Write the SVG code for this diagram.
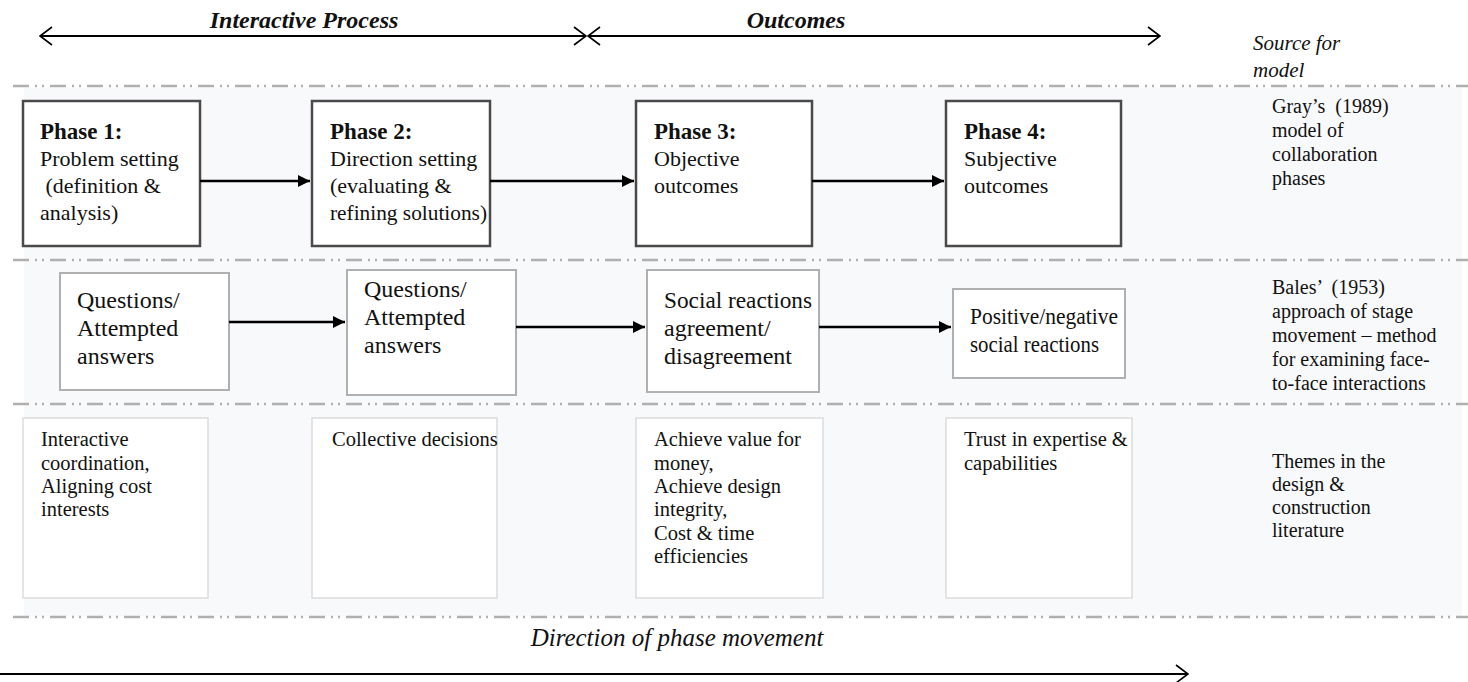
<svg xmlns="http://www.w3.org/2000/svg" width="1468" height="682" viewBox="0 0 1468 682">
  <style>
    .t { font-family: "Liberation Serif", "Times New Roman", serif; fill: #111; }
    .head { font-size: 24px; font-weight: bold; font-style: italic; text-anchor: middle; }
    .ph { font-size: 22px; }
    .phb { font-size: 23px; font-weight: bold; }
    .b2 { font-size: 24px; }
    .b3 { font-size: 20.5px; }
    .src { font-size: 20px; }
    .srci { font-size: 21px; font-style: italic; }
    .dir { font-size: 25px; font-style: italic; text-anchor: middle; }
    .sep { stroke: #b0b0b0; stroke-width: 2.5; stroke-dasharray: 16 6 2 5 2 6; fill: none; }
    .phase { fill: #ffffff; stroke: #4a4a4a; stroke-width: 2.5; }
    .stage { fill: #ffffff; stroke: #b0b0b0; stroke-width: 2; }
    .theme { fill: #ffffff; stroke: #dcdcdc; stroke-width: 1.5; }
    .flow { stroke: #000; stroke-width: 2.5; fill: none; marker-end: url(#solid); }
    .span { stroke: #000; stroke-width: 2; fill: none; }
  </style>
  <defs>
    <marker id="solid" viewBox="0 0 10 10" refX="10" refY="5" markerWidth="5" markerHeight="5" orient="auto" markerUnits="strokeWidth">
      <path d="M0,0 L10,5 L0,10 Z" fill="#000"/>
    </marker>
    <marker id="open" viewBox="0 0 14 20" refX="13" refY="10" markerWidth="7" markerHeight="10" orient="auto-start-reverse" markerUnits="strokeWidth">
      <path d="M1,1 L13,10 L1,19" fill="none" stroke="#000" stroke-width="1.6"/>
    </marker>
  </defs>

  <rect x="0" y="0" width="1468" height="682" fill="#ffffff"/>
  <!-- shaded band behind the three rows -->
  <rect x="24" y="88" width="1438" height="528" fill="#f8f9fb"/>

  <!-- row separators -->
  <g id="separators">
    <line class="sep" x1="13" y1="86" x2="1468" y2="86"/>
    <line class="sep" x1="13" y1="260" x2="1468" y2="260"/>
    <line class="sep" x1="13" y1="404" x2="1468" y2="404"/>
    <line class="sep" x1="13" y1="617" x2="1468" y2="617"/>
  </g>

  <!-- header spans -->
  <g id="header">
    <text class="t head" x="304" y="28">Interactive Process</text>
    <text class="t head" x="796" y="28">Outcomes</text>
    <text class="t srci" x="1253" y="50">Source for</text>
    <text class="t srci" x="1253" y="77">model</text>
  </g>

  <!-- row 1: Gray's phases -->
  <g id="phase1">
    <rect class="phase" x="23" y="101" width="177" height="145"/>
    <text class="t phb" x="40" y="139">Phase 1:</text>
    <text class="t ph" x="40" y="166">Problem setting</text>
    <text class="t ph" x="40" y="193" xml:space="preserve"> (definition &amp;</text>
    <text class="t ph" x="40" y="220">analysis)</text>
  </g>
  <g id="phase2">
    <rect class="phase" x="312" y="101" width="178" height="145"/>
    <text class="t phb" x="330" y="139">Phase 2:</text>
    <text class="t ph" x="330" y="166">Direction setting</text>
    <text class="t ph" x="330" y="193">(evaluating &amp;</text>
    <text class="t ph" x="330" y="220" textLength="157" lengthAdjust="spacingAndGlyphs">refining solutions)</text>
  </g>
  <g id="phase3">
    <rect class="phase" x="636" y="101" width="176" height="145"/>
    <text class="t phb" x="654" y="139">Phase 3:</text>
    <text class="t ph" x="654" y="166">Objective</text>
    <text class="t ph" x="654" y="193">outcomes</text>
  </g>
  <g id="phase4">
    <rect class="phase" x="946" y="101" width="175" height="145"/>
    <text class="t phb" x="964" y="139">Phase 4:</text>
    <text class="t ph" x="964" y="166">Subjective</text>
    <text class="t ph" x="964" y="193">outcomes</text>
  </g>
  <g id="source-gray">
    <text class="t src" x="1272" y="113" xml:space="preserve">Gray’s  (1989)</text>
    <text class="t src" x="1272" y="137">model of</text>
    <text class="t src" x="1272" y="161">collaboration</text>
    <text class="t src" x="1272" y="185">phases</text>
  </g>

  <!-- row 2: Bales' stage movement -->
  <g id="stage1">
    <rect class="stage" x="60" y="273" width="169" height="117"/>
    <text class="t b2" x="77" y="308">Questions/</text>
    <text class="t b2" x="77" y="336">Attempted</text>
    <text class="t b2" x="77" y="364">answers</text>
  </g>
  <g id="stage2">
    <rect class="stage" x="347" y="270" width="169" height="125"/>
    <text class="t b2" x="364" y="297">Questions/</text>
    <text class="t b2" x="364" y="325">Attempted</text>
    <text class="t b2" x="364" y="353">answers</text>
  </g>
  <g id="stage3">
    <rect class="stage" x="647" y="270" width="172" height="122"/>
    <text class="t b2" x="664" y="308" textLength="148" lengthAdjust="spacingAndGlyphs">Social reactions</text>
    <text class="t b2" x="664" y="336">agreement/</text>
    <text class="t b2" x="664" y="364">disagreement</text>
  </g>
  <g id="stage4">
    <rect class="stage" x="953" y="289" width="172" height="89"/>
    <text class="t b2" x="970" y="324" textLength="148" lengthAdjust="spacingAndGlyphs">Positive/negative</text>
    <text class="t b2" x="970" y="352" textLength="129" lengthAdjust="spacingAndGlyphs">social reactions</text>
  </g>
  <g id="source-bales">
    <text class="t src" x="1272" y="294" xml:space="preserve">Bales’  (1953)</text>
    <text class="t src" x="1272" y="318">approach of stage</text>
    <text class="t src" x="1272" y="342">movement – method</text>
    <text class="t src" x="1272" y="366">for examining face-</text>
    <text class="t src" x="1272" y="390">to-face interactions</text>
  </g>

  <!-- row 3: literature themes -->
  <g id="theme1">
    <rect class="theme" x="23" y="418" width="185" height="180"/>
    <text class="t b3" x="41" y="446">Interactive</text>
    <text class="t b3" x="41" y="470">coordination,</text>
    <text class="t b3" x="41" y="493">Aligning cost</text>
    <text class="t b3" x="41" y="516">interests</text>
  </g>
  <g id="theme2">
    <rect class="theme" x="312" y="418" width="185" height="180"/>
    <text class="t b3" x="332" y="446">Collective decisions</text>
  </g>
  <g id="theme3">
    <rect class="theme" x="636" y="418" width="187" height="180"/>
    <text class="t b3" x="654" y="446">Achieve value for</text>
    <text class="t b3" x="654" y="470">money,</text>
    <text class="t b3" x="654" y="493">Achieve design</text>
    <text class="t b3" x="654" y="516">integrity,</text>
    <text class="t b3" x="654" y="540">Cost &amp; time</text>
    <text class="t b3" x="654" y="563">efficiencies</text>
  </g>
  <g id="theme4">
    <rect class="theme" x="946" y="418" width="186" height="180"/>
    <text class="t b3" x="964" y="446">Trust in expertise &amp;</text>
    <text class="t b3" x="964" y="470">capabilities</text>
  </g>
  <g id="source-themes">
    <text class="t src" x="1272" y="468">Themes in the</text>
    <text class="t src" x="1272" y="491">design &amp;</text>
    <text class="t src" x="1272" y="514">construction</text>
    <text class="t src" x="1272" y="537">literature</text>
  </g>

  <g id="footer">
    <text class="t dir" x="677" y="646">Direction of phase movement</text>
  </g>

  <!-- connectors -->
  <g id="connectors">
    <line class="span" x1="40" y1="36" x2="586" y2="36" marker-start="url(#open)" marker-end="url(#open)"/>
    <line class="span" x1="588" y1="36" x2="1160" y2="36" marker-start="url(#open)" marker-end="url(#open)"/>
    <line class="flow" x1="200" y1="181" x2="310" y2="181"/>
    <line class="flow" x1="490" y1="181" x2="634" y2="181"/>
    <line class="flow" x1="812" y1="181" x2="944" y2="181"/>
    <line class="flow" x1="229" y1="322" x2="345" y2="322"/>
    <line class="flow" x1="516" y1="327" x2="645" y2="327"/>
    <line class="flow" x1="819" y1="327" x2="951" y2="327"/>
    <line class="span" x1="0" y1="674" x2="1188" y2="674" stroke-width="2.5" marker-end="url(#open)"/>
  </g>
</svg>
